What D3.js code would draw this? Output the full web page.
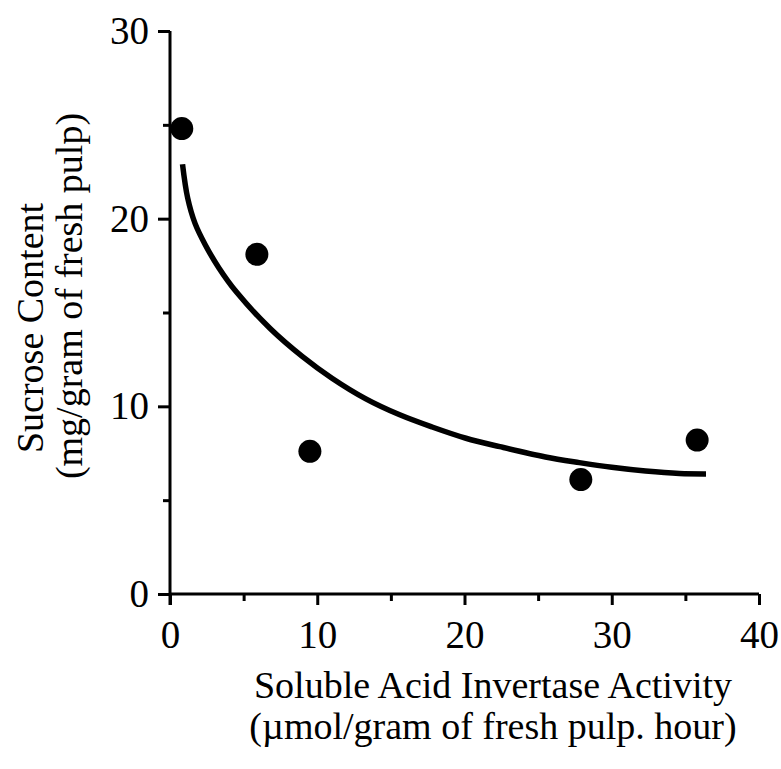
<!DOCTYPE html>
<html>
<head>
<meta charset="utf-8">
<script src="https://cdn.jsdelivr.net/npm/d3@7"></script>
<style>
  html, body { margin: 0; padding: 0; background: #fff; }
  svg text { font-family: "Liberation Serif", "Times New Roman", serif; fill: #000; }
</style>
</head>
<body>
<svg id="chart" width="781" height="769"></svg>
<script>
// ---- data ----
const pointX = [0.8, 5.9, 9.5, 27.9, 35.8];
const pointY = [24.8, 18.1, 7.6, 6.1, 8.2];

const curveX = [0.85, 1.2, 1.7, 2.4, 3.3, 4.5, 6.8, 9.0, 11.0, 13.3, 15.6, 17.8, 20.1, 22.4, 25.5, 27.8, 30.0, 32.3, 34.6, 36.4];
const curveY = [22.9, 21.1, 19.75, 18.6, 17.4, 16.1, 14.15, 12.65, 11.5, 10.4, 9.55, 8.9, 8.3, 7.85, 7.3, 7.0, 6.75, 6.55, 6.42, 6.4];

const xMajorTicks = [0, 10, 20, 30, 40];
const xMinorTicks = [5, 15, 25, 35];
const yMajorTicks = [0, 10, 20, 30];
const yMinorTicks = [5, 15, 25];

const yTitle = ["Sucrose Content", "(mg/gram of fresh pulp)"];
const xTitle = ["Soluble Acid Invertase Activity", "(\u00B5mol/gram of fresh pulp. hour)"];

// ---- layout ----
const svg = d3.select("#chart");
const x = d3.scaleLinear().domain([0, 40]).range([170, 759]);
const y = d3.scaleLinear().domain([0, 30]).range([594, 31]);

const axisW = 3;
const fs = 39;
const tfs = 38;

// x axis
const gx = svg.append("g").attr("transform", `translate(0,${y(0)})`);
gx.call(d3.axisBottom(x).tickValues(xMajorTicks).tickSize(11).tickPadding(15).tickFormat(d3.format("d")));
const gxm = svg.append("g").attr("transform", `translate(0,${y(0)})`);
gxm.call(d3.axisBottom(x).tickValues(xMinorTicks).tickSize(7).tickFormat(""));

// y axis
const gy = svg.append("g").attr("transform", `translate(${x(0)},0)`);
gy.call(d3.axisLeft(y).tickValues(yMajorTicks).tickSize(12).tickPadding(9).tickFormat(d3.format("d")));
const gym = svg.append("g").attr("transform", `translate(${x(0)},0)`);
gym.call(d3.axisLeft(y).tickValues(yMinorTicks).tickSize(7).tickFormat(""));

[gx, gxm, gy, gym].forEach(g => {
  g.select(".domain").attr("stroke", "#000").attr("stroke-width", axisW);
  g.selectAll(".tick line").attr("stroke", "#000").attr("stroke-width", axisW);
  g.selectAll(".tick text").attr("font-size", fs).attr("font-family", "Liberation Serif");
});
gxm.select(".domain").remove();
gym.select(".domain").remove();
gx.select(".domain").attr("d", `M${x(0)},0H${x(40)}`);
gy.select(".domain").attr("d", `M0,${y(30)}V${y(0) + 11}`);

// fitted curve
const line = d3.line()
  .x((d, i) => x(curveX[i]))
  .y((d, i) => y(curveY[i]))
  .curve(d3.curveCatmullRom.alpha(0.5));
svg.append("path")
  .datum(curveX)
  .attr("d", line)
  .attr("fill", "none")
  .attr("stroke", "#000")
  .attr("stroke-width", 5.5);

// points
svg.append("g").selectAll("circle")
  .data(pointX)
  .join("circle")
  .attr("cx", (d) => x(d))
  .attr("cy", (d, i) => y(pointY[i]))
  .attr("r", 11.5)
  .attr("fill", "#000");

// y title
const yCenter = [328, 296];
const yBase = [43, 82];
yTitle.forEach((t, i) => {
  svg.append("text")
    .attr("transform", `translate(${yBase[i]},${yCenter[i]}) rotate(-90)`)
    .attr("text-anchor", "middle")
    .attr("font-size", tfs)
    .text(t);
});

// x title
const xBase = [698, 739];
xTitle.forEach((t, i) => {
  svg.append("text")
    .attr("x", 493)
    .attr("y", xBase[i])
    .attr("text-anchor", "middle")
    .attr("font-size", tfs)
    .text(t);
});
</script>
</body>
</html>
